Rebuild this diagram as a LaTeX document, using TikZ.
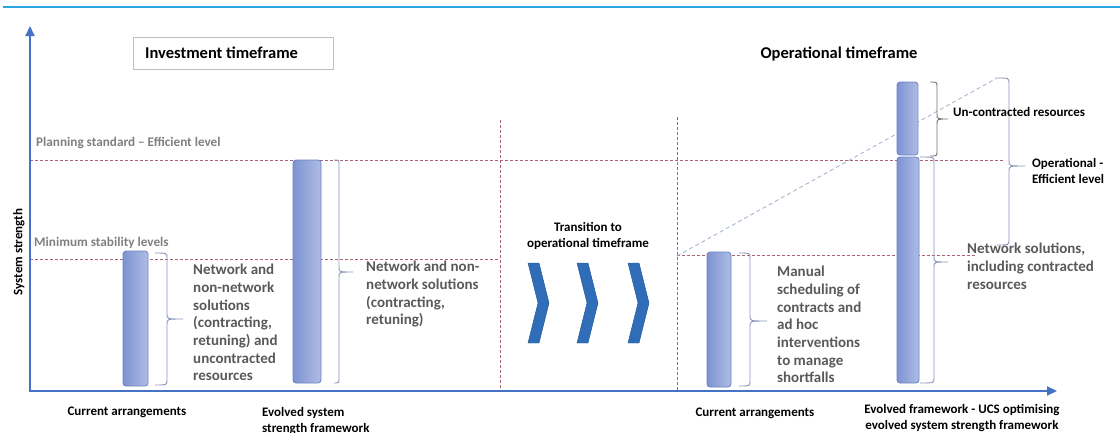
\documentclass[tikz,border=0pt]{standalone}
\usepackage{fontspec}
\setmainfont{Carlito}
\usetikzlibrary{arrows.meta}
\definecolor{axisblue}{HTML}{4472C4}
\definecolor{topcyan}{HTML}{2AA5E0}
\definecolor{reddash}{HTML}{A86470}
\definecolor{labgray}{HTML}{7F7F7F}
\definecolor{txtgray}{HTML}{595959}
\definecolor{barL}{HTML}{7D93D2}
\definecolor{barR}{HTML}{AFBDE4}
\definecolor{barB}{HTML}{6A82C6}
\definecolor{chevblue}{HTML}{2F6DB8}
\definecolor{diaggray}{HTML}{A6B5D1}
\definecolor{bracecol}{HTML}{8A96B8}
\newcommand\rbr[7][bracecol]{%
  \draw[#1,line width=0.9pt] (#2,#5) .. controls (#3,#5) .. (#3,{#5+5}) -- (#3,{#6-5}) .. controls (#3,#6) .. (#4,#6) .. controls (#3,#6) .. (#3,{#6+5}) -- (#3,{#7-5}) .. controls (#3,#7) .. (#2,#7);}
\begin{document}
\begin{tikzpicture}[x=1pt,y=-1pt,
  bar/.style={draw=barB,line width=0.8pt,rounded corners=3pt,left color=barL,right color=barR},
  rdash/.style={reddash,line width=0.8pt,dash pattern=on 3pt off 2pt},
  body/.style={anchor=north west,align=left,text=txtgray,font=\fontsize{15}{17.7}\selectfont\bfseries,inner sep=0pt},
  blk/.style={font=\fontsize{13}{16.5}\selectfont\bfseries,text=black,inner sep=0pt},
  glab/.style={font=\fontsize{13.2}{14}\selectfont\bfseries,text=labgray,inner sep=0pt,anchor=west},
  chev/.style={fill=chevblue,draw=chevblue!80!black,line width=0.4pt}]
\useasboundingbox (0,0) rectangle (1120,432);
% top line
\draw[topcyan,line width=1.3pt] (3,7) -- (1120,7);
% dashed level lines
\draw[rdash] (30,160) -- (1003,160);
\draw[rdash] (30,259) -- (500,259);
\draw[rdash] (677,255) -- (975,255);
\draw[rdash] (500,120) -- (500,391);
\draw[rdash] (677,117) -- (677,391);
% diagonal
\draw[diaggray,line width=0.9pt,dash pattern=on 4pt off 3pt] (677,256) -- (997,78);
% axes
\draw[axisblue,line width=2pt,-{Triangle[length=10pt,width=9pt]}] (30,392) -- (30,26);
\draw[axisblue,line width=2pt,-{Triangle[length=10pt,width=9pt]}] (29,391) -- (1057,391);
\node[blk,rotate=90] (ylab) at (19,252) {System strength};
% titles
\node[draw=black!25,line width=0.8pt,minimum width=200pt,minimum height=32pt,anchor=north west,inner sep=0pt] (invbox) at (133,37) {};
\node[font=\fontsize{16.5}{18}\selectfont\bfseries,anchor=west,inner sep=0pt] (invt) at (145,53) {Investment timeframe};
\node[font=\fontsize{16.5}{18}\selectfont\bfseries,inner sep=0pt] (opt) at (839,54) {Operational timeframe};
\node[glab] (plan) at (36,143) {Planning standard -- Efficient level};
\node[glab] (minst) at (34,243) {Minimum stability levels};
% bars
\draw[bar] (123,251) rectangle (148,386);
\draw[bar] (293,160) rectangle (321,383);
\draw[bar] (707,252) rectangle (731,387);
\draw[bar] (897,82) rectangle (918,155);
\draw[bar] (897,157) rectangle (919,383);
% braces
\rbr{155}{167}{183}{253}{319}{385}
\rbr{334}{339}{353}{160}{272}{383}
\rbr{739}{750}{767}{253}{321}{386}
\rbr[black!55]{930}{937}{948}{82}{119}{156}
\rbr{997}{1009}{1025}{78}{166}{245}
\rbr{920}{934}{948}{157}{262}{383}
% body texts
\node[body] (t1) at (193,264) {Network and\\non-network\\solutions\\(contracting,\\retuning) and\\uncontracted\\resources};
\node[body] (t2) at (366,261) {Network and non-\\network solutions\\(contracting,\\retuning)};
\node[body] (t3) at (777,266) {Manual\\scheduling of\\contracts and\\ad hoc\\interventions\\to manage\\shortfalls};
\node[body] (t4) at (967,243) {Network solutions,\\including contracted\\resources};
\node[blk,anchor=west] (unc) at (953,112) {Un-contracted resources};
\node[blk,anchor=north west,align=left] (opeff) at (1032,158) {Operational -\\Efficient level};
\node[blk,align=center] (trans) at (588,236) {Transition to\\operational timeframe};
% chevrons
\foreach \cx [count=\i] in {528,577,628}{
  \fill[chev] (\cx,263) -- ({\cx+11},263) -- ({\cx+21},303) -- ({\cx+11},343) -- (\cx,343) -- ({\cx+10},303) -- cycle;
}
% bottom labels
\node[blk] (ca1) at (127,412) {Current arrangements};
\node[blk,anchor=north west,align=left] (ev1) at (262,407) {Evolved system\\strength framework};
\node[blk] (ca2) at (755,413) {Current arrangements};
\node[blk,align=center,anchor=north] (ev2) at (962,404) {Evolved framework - UCS optimising\\evolved system strength framework};
\end{tikzpicture}
\end{document}
